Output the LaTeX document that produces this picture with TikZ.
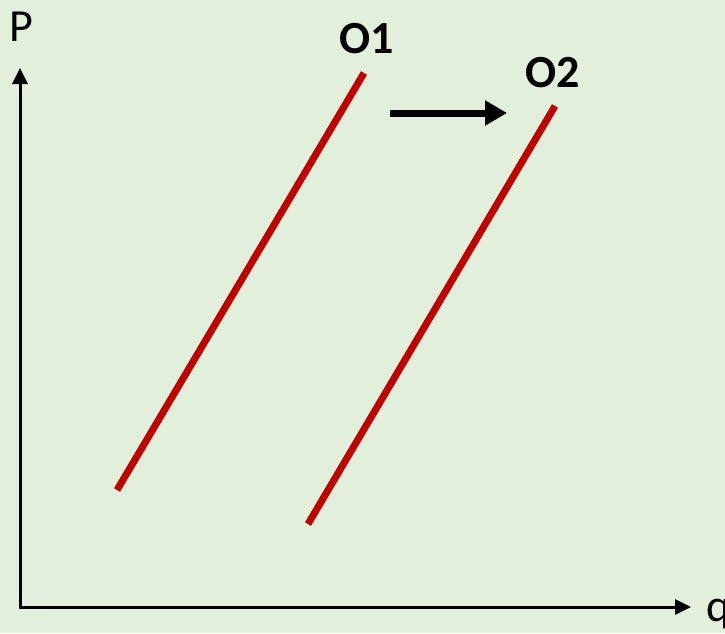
\documentclass[tikz,border=0pt]{standalone}
\usepackage{fontspec}
\setmainfont{Carlito}
\usetikzlibrary{arrows.meta}
\definecolor{bg}{RGB}{226,239,218}
\definecolor{curvered}{RGB}{192,0,0}
\tikzset{
  axis/.style={line width=3pt, -{Triangle[length=16pt,width=15pt]}},
  curve/.style={line width=7pt, curvered},
  shiftarrow/.style={line width=7pt, -{Triangle[length=22pt,width=24pt]}},
  lbl/.style={font=\fontsize{46}{46}\selectfont, inner sep=0pt, anchor=base west},
  blbl/.style={font=\fontsize{46}{46}\selectfont\bfseries, inner sep=0pt, anchor=base},
}
\begin{document}
\begin{tikzpicture}[x=1pt,y=-1pt]
\fill[bg] (0,0) rectangle (725,633);
\useasboundingbox (0,0) rectangle (725,633);
\coordinate (o) at (20,607);
\coordinate (ytip) at (20,68);
\coordinate (xtip) at (691,607);
\draw[axis] (o) -- (ytip);
\draw[axis] ([xshift=-1.5pt]o) -- (xtip);
\node[lbl] (p) at (9,41) {P};
\node[lbl] (q) at (706,621) {q};
\coordinate (a1) at (117,490);
\coordinate (b1) at (364,73);
\coordinate (a2) at (308,524);
\coordinate (b2) at (555,106);
\draw[curve] (a1) -- (b1);
\draw[curve] (a2) -- (b2);
\node[blbl] (o1) at (367,53) {O1};
\node[blbl] (o2) at (553,87) {O2};
\coordinate (s1) at (390,113);
\coordinate (s2) at (507,113);
\draw[shiftarrow] (s1) -- (s2);
\end{tikzpicture}
\end{document}
